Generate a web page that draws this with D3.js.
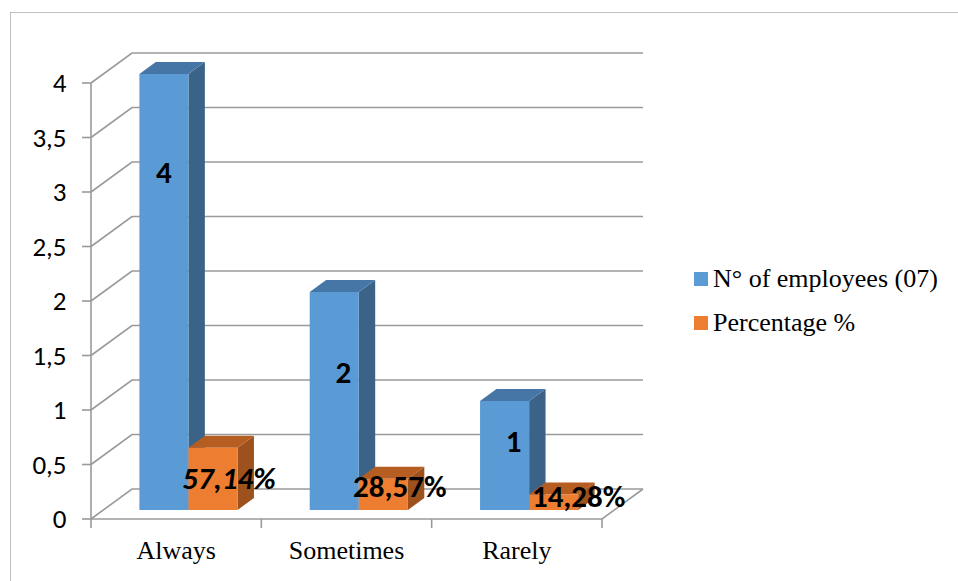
<!DOCTYPE html>
<html>
<head>
<meta charset="utf-8">
<script src="https://cdn.jsdelivr.net/npm/d3@7"></script>
<style>
  html, body { margin: 0; padding: 0; background: #fff; }
  svg { display: block; }
</style>
</head>
<body>
<svg id="chart" width="958" height="581"></svg>
<script>
// ---- data ----
const categories = ["Always", "Sometimes", "Rarely"];
const seriesNames = ["N° of employees (07)", "Percentage %"];
const employees = [4, 2, 1];
const percentage = [0.5714, 0.2857, 0.1428];
const employeeLabels = ["4", "2", "1"];
const percentageLabels = ["57,14%", "28,57%", "14,28%"];
const yTicks = [0, 0.5, 1, 1.5, 2, 2.5, 3, 3.5, 4];

// ---- layout ----
const plot = { left: 91, right: 602, floor: 519, top: 83 };
const depth = { dx: 41, dy: -30 };          // wall depth of the 3-D box
const barDepth = [0.3, 0.7];                 // bars sit in the middle of the depth
// baseline of each value label along its bar (value units) and its sideways shift
const labelLevel = { count: [3.0, 1.165, 0.53], share: [0.19, 0.12, 0.03] };
const labelShift = { count: [0, 9, 9], share: [16, 16.5, 25] };

const SANS = "Carlito";
const SERIF = "Liberation Serif";

const colors = {
  front: ["#5B9BD5", "#ED7D31"],
  top:   ["#4676A6", "#B65D22"],
  side:  ["#3B6387", "#9D511D"]
};

const svg = d3.select("#chart");

const y = d3.scaleLinear().domain([0, 4]).range([plot.floor, plot.top]);
const x = d3.scaleBand().domain(categories).range([plot.left, plot.right]);
const xs = d3.scaleBand().domain(seriesNames).range([0, x.bandwidth()]).paddingOuter(0.735);

// project a front-plane point to a given depth (0 = front, 1 = back)
const P = (px, py, t) => [px + depth.dx * t, py + depth.dy * t];

// outer frame
svg.append("rect")
  .attr("x", 10.5).attr("y", 12.5).attr("width", 1000).attr("height", 1000)
  .attr("fill", "none").attr("stroke", "#BFBFBF").attr("stroke-width", 1);

const grid = svg.append("g")
  .attr("fill", "none").attr("stroke", "#9A9A9A").attr("stroke-width", 1.6);

// left wall diagonals and back wall gridlines
yTicks.forEach(v => {
  const a = P(plot.left, y(v), 0), b = P(plot.left, y(v), 1), c = P(plot.right, y(v), 1);
  grid.append("path").attr("d", d3.line()([a, b, c]));
});
// floor front and right edges
grid.append("path").attr("d", d3.line()([
  [plot.left, plot.floor], [plot.right, plot.floor], P(plot.right, plot.floor, 1)
]));
// value axis line and ticks
grid.append("path").attr("d", d3.line()([[plot.left, y(4)], [plot.left, plot.floor]]));
yTicks.forEach(v => {
  grid.append("path").attr("d", d3.line()([[plot.left - 9, y(v)], [plot.left, y(v)]]));
});
// category ticks
const catEdges = categories.map(c => x(c)).concat([plot.right]);
catEdges.forEach(cx => {
  grid.append("path").attr("d", d3.line()([[cx, plot.floor], [cx, plot.floor + 9]]));
});

// value axis labels
svg.append("g").selectAll("text").data(yTicks).join("text")
  .attr("x", 66.5).attr("y", d => y(d)).attr("dy", "0.34em")
  .attr("text-anchor", "end")
  .style("font-family", SANS).style("font-size", "27px")
  .attr("fill", "#000")
  .text(d => d3.format("~g")(d).replace(".", ","));

// category labels
svg.append("g").selectAll("text").data(categories).join("text")
  .attr("x", d => x(d) + x.bandwidth() / 2).attr("y", 559)
  .attr("text-anchor", "middle")
  .style("font-family", SERIF).style("font-size", "26px")
  .attr("fill", "#000")
  .text(d => d);

// 3-D bars
const series = [employees, percentage];
const bars = svg.append("g");
const poly = pts => "M" + pts.map(p => p.join(",")).join("L") + "Z";
categories.forEach((cat, i) => {
  series.forEach((vals, s) => {
    const x0 = x(cat) + xs(seriesNames[s]);
    const x1 = x0 + xs.bandwidth();
    const yt = y(vals[i]);
    const yb = y(0);
    const [t0, t1] = barDepth;
    // right side face
    bars.append("path")
      .attr("d", poly([P(x1, yt, t0), P(x1, yt, t1), P(x1, yb, t1), P(x1, yb, t0)]))
      .attr("fill", colors.side[s]);
    // top face
    bars.append("path")
      .attr("d", poly([P(x0, yt, t0), P(x0, yt, t1), P(x1, yt, t1), P(x1, yt, t0)]))
      .attr("fill", colors.top[s]);
    // front face
    bars.append("path")
      .attr("d", poly([P(x0, yt, t0), P(x1, yt, t0), P(x1, yb, t0), P(x0, yb, t0)]))
      .attr("fill", colors.front[s]);
  });
});

// value labels
const labels = svg.append("g");
const labelText = (px, py, txt, italic) => labels.append("text")
  .attr("x", px).attr("y", py).attr("text-anchor", "middle").attr("fill", "#000")
  .style("font-family", SANS).style("font-size", "31px").style("font-weight", "700")
  .style("font-style", italic ? "italic" : "normal")
  .text(txt);
categories.forEach((cat, i) => {
  const t0 = barDepth[0];
  const cx0 = x(cat) + xs(seriesNames[0]) + xs.bandwidth() / 2;
  const p0 = P(cx0, y(labelLevel.count[i]), t0);
  labelText(p0[0] + labelShift.count[i], p0[1], employeeLabels[i], false);
  const cx1 = x(cat) + xs(seriesNames[1]) + xs.bandwidth() / 2;
  const p1 = P(cx1, y(labelLevel.share[i]), t0);
  labelText(p1[0] + labelShift.share[i], p1[1], percentageLabels[i], i === 0);
});

// legend
const legend = svg.append("g");
seriesNames.forEach((name, s) => {
  const ly = 287 + s * 44;
  legend.append("rect")
    .attr("x", 694).attr("y", ly - 15).attr("width", 14).attr("height", 14)
    .attr("fill", colors.front[s]);
  legend.append("text").attr("x", 713).attr("y", ly).attr("fill", "#000")
    .style("font-family", SERIF).style("font-size", "26px")
    .text(name);
});
</script>
</body>
</html>
